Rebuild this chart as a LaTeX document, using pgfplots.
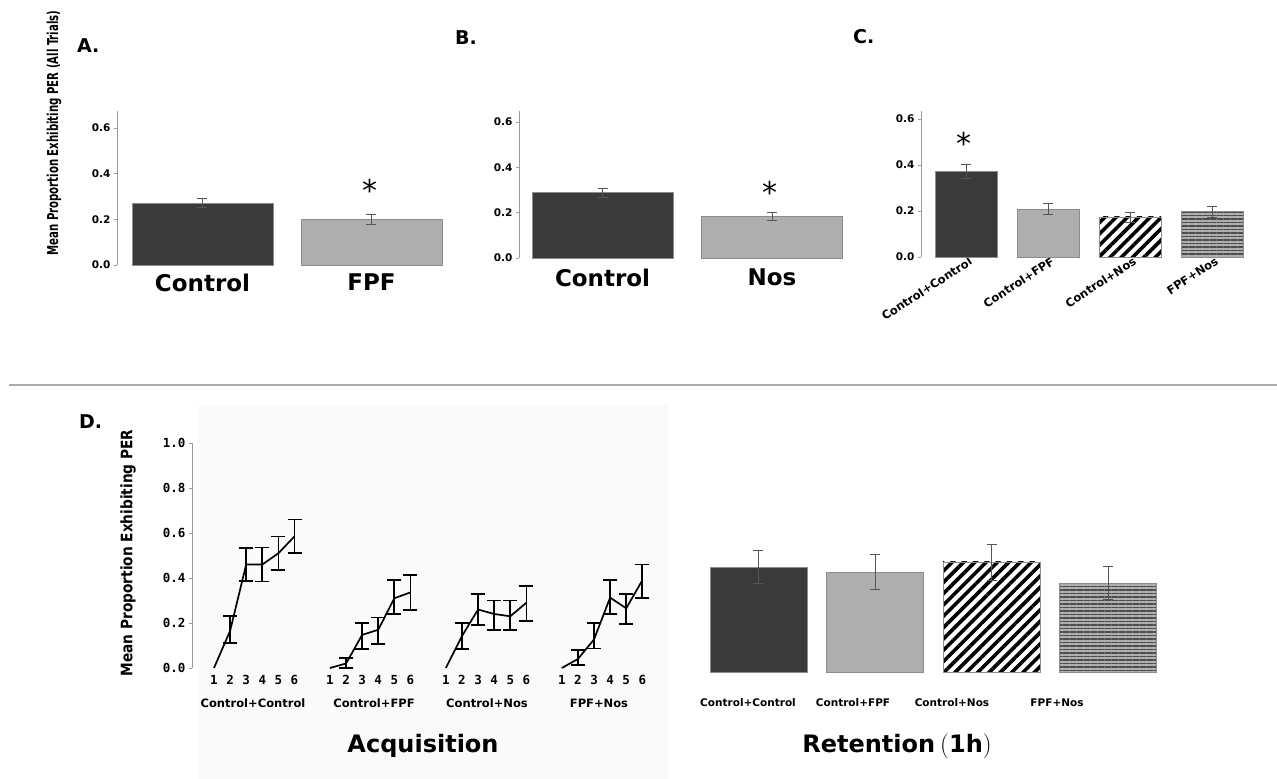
\documentclass[border=0pt]{standalone}
\usepackage{pgfplots}
\pgfplotsset{compat=1.18}
\usetikzlibrary{patterns.meta}
\usepackage{fontspec}
\setmainfont{DejaVu Sans}
\newfontfamily\monob{DejaVu Sans Mono}

\definecolor{barDark}{HTML}{3A3A3A}
\definecolor{barLight}{HTML}{AEAEAE}
\definecolor{barEdge}{HTML}{8C8C8C}
\definecolor{errGray}{HTML}{555555}
\definecolor{axGray}{HTML}{9A9A9A}

\pgfplotsset{
  /pgf/number format/assume math mode=true,
  small panel/.style={
    scale only axis, anchor=south west, clip=false,
    axis y line*=left, axis x line*=bottom,
    x axis line style={draw=none}, xtick style={draw=none},
    y axis line style={draw=axGray, line width=0.8pt},
    ytick style={draw=axGray, line width=0.6pt},
    tick align=outside, major tick length=3pt,
    ymin=0, ytick={0,0.2,0.4,0.6},
    yticklabel style={font=\bfseries\fontsize{10.5}{11}\selectfont,
      /pgf/number format/.cd, fixed, fixed zerofill, precision=1},
  },
  onebar/.style={ybar, bar shift=0pt, draw=barEdge, line width=0.8pt,
    error bars/y dir=both, error bars/y explicit,
    error bars/error bar style={draw=errGray, line width=0.8pt},
    error bars/error mark options={rotate=90, mark size=5pt, draw=errGray, line width=0.8pt}},
  darkbar/.style={fill=barDark},
  lightbar/.style={fill=barLight},
  stripebar/.style={fill=white, postaction={pattern={Lines[angle=45,distance=8pt,line width=3.6pt]}, pattern color=black}},
  hlinebar/.style={fill=barLight, postaction={pattern={Lines[angle=0,distance=3.5pt,line width=1.5pt]}, pattern color=black!70}},
  trial/.style={black, line width=1.7pt, mark=none},
  trialerr/.style={draw=none, mark=none, forget plot,
    error bars/y dir=both, error bars/y explicit,
    error bars/error bar style={black, line width=1.7pt},
    error bars/error mark options={rotate=90, mark size=7pt, black, line width=1.7pt}},
}

\begin{document}
\begin{tikzpicture}[x=1pt,y=1pt]
\path[use as bounding box] (0,0) rectangle (1277,779);

% faint backdrop behind the acquisition curves
\fill[gray!4] (198,0) rectangle (668,374);
% divider between the two rows
\draw[gray!65, line width=1.6pt] (9,394) -- (1277,394);

% ---- A ----
\begin{axis}[small panel, at={(117pt,514pt)}, width=333pt, height=154pt,
  xmin=-0.506, xmax=1.465, ymax=0.675,
  xtick={0,1}, xticklabels={Control,FPF},
  xticklabel style={font=\bfseries\fontsize{23}{23}\selectfont, yshift=-2pt}]
  \addplot[onebar, darkbar, bar width=141pt] coordinates {(0,0.272) +- (0,0.018)};
  \addplot[onebar, lightbar, bar width=141pt] coordinates {(1,0.200) +- (0,0.020)};
\end{axis}

% ---- B ----
\begin{axis}[small panel, at={(519pt,521pt)}, width=331pt, height=147pt,
  xmin=-0.493, xmax=1.46, ymax=0.648,
  xtick={0,1}, xticklabels={Control,Nos},
  xticklabel style={font=\bfseries\fontsize{23}{23}\selectfont, yshift=-4pt}]
  \addplot[onebar, darkbar, bar width=141pt] coordinates {(0,0.287) +- (0,0.018)};
  \addplot[onebar, lightbar, bar width=141pt] coordinates {(1,0.183) +- (0,0.018)};
\end{axis}

% ---- C ----
\begin{axis}[small panel, at={(921pt,522pt)}, width=329pt, height=146pt,
  xmin=-0.549, xmax=3.46, ymax=0.635,
  xtick={0,1,2,3}, xticklabels={Control+Control,Control+FPF,Control+Nos,FPF+Nos},
  xticklabel style={font=\bfseries\fontsize{11.5}{12}\selectfont, rotate=33, anchor=north east, inner sep=1pt, xshift=5pt, yshift=3pt}]
  \addplot[onebar, darkbar, bar width=62pt] coordinates {(0,0.372) +- (0,0.030)};
  \addplot[onebar, lightbar, bar width=62pt] coordinates {(1,0.209) +- (0,0.025)};
  \addplot[onebar, stripebar, bar width=62pt] coordinates {(2,0.174) +- (0,0.022)};
  \addplot[onebar, hlinebar, bar width=62pt] coordinates {(3,0.198) +- (0,0.024)};
\end{axis}

% ---- D, acquisition ----
\begin{axis}[scale only axis, anchor=south west, at={(192pt,111pt)}, clip=false,
  width=488pt, height=225pt, xmin=-0.366, xmax=29.94, ymin=0, ymax=1,
  axis y line*=left, axis x line*=bottom,
  x axis line style={draw=none}, xtick style={draw=none},
  y axis line style={draw=axGray, line width=0.8pt},
  ytick style={draw=axGray, line width=0.6pt},
  tick align=outside, major tick length=3pt,
  ytick={0,0.2,0.4,0.6,0.8,1},
  yticklabel style={font=\monob\bfseries\fontsize{12.5}{13}\selectfont,
    /pgf/number format/.cd, fixed, fixed zerofill, precision=1},
  xtick={1,2,3,4,5,6, 8.2,9.2,10.2,11.2,12.2,13.2, 15.4,16.4,17.4,18.4,19.4,20.4, 22.6,23.6,24.6,25.6,26.6,27.6},
  xticklabels={1,2,3,4,5,6,1,2,3,4,5,6,1,2,3,4,5,6,1,2,3,4,5,6},
  xticklabel style={font=\monob\bfseries\fontsize{12.5}{13}\selectfont, inner sep=1pt, yshift=-3pt}]
  % Control+Control
  \addplot[trial] coordinates {(1,0) (2,0.165) (3,0.46) (4,0.46) (5,0.51) (6,0.585)};
  \addplot[trialerr] coordinates {(2,0.165) += (0,0.065) -= (0,0.055) (3,0.46) +- (0,0.072)
    (4,0.46) +- (0,0.075) (5,0.51) +- (0,0.075) (6,0.585) +- (0,0.075)};
  % Control+FPF
  \addplot[trial] coordinates {(8.2,0) (9.2,0.02) (10.2,0.147) (11.2,0.17) (12.2,0.31) (13.2,0.336)};
  \addplot[trialerr] coordinates {(9.2,0.02) += (0,0.025) -= (0,0.02) (10.2,0.147) += (0,0.053) -= (0,0.062)
    (11.2,0.17) += (0,0.055) -= (0,0.063) (12.2,0.31) += (0,0.08) -= (0,0.07) (13.2,0.336) += (0,0.077) -= (0,0.078)};
  % Control+Nos
  \addplot[trial] coordinates {(15.4,0) (16.4,0.142) (17.4,0.26) (18.4,0.24) (19.4,0.23) (20.4,0.29)};
  \addplot[trialerr] coordinates {(16.4,0.142) +- (0,0.058) (17.4,0.26) +- (0,0.07)
    (18.4,0.24) += (0,0.06) -= (0,0.07) (19.4,0.23) += (0,0.07) -= (0,0.06) (20.4,0.29) += (0,0.074) -= (0,0.08)};
  % FPF+Nos
  \addplot[trial] coordinates {(22.6,0) (23.6,0.04) (24.6,0.127) (25.6,0.313) (26.6,0.265) (27.6,0.39)};
  \addplot[trialerr] coordinates {(23.6,0.04) += (0,0.04) -= (0,0.027) (24.6,0.127) += (0,0.073) -= (0,0.04)
    (25.6,0.313) += (0,0.077) -= (0,0.073) (26.6,0.265) += (0,0.065) -= (0,0.071) (27.6,0.39) += (0,0.07) -= (0,0.08)};
\end{axis}

% ---- D, retention ----
\begin{axis}[scale only axis, anchor=south west, at={(700pt,107pt)}, clip=false, hide axis,
  width=470pt, height=135pt, xmin=-0.502, xmax=3.532, ymin=0, ymax=0.6]
  \addplot[onebar, darkbar, bar width=97pt] coordinates {(0,0.467) +- (0,0.075)};
  \addplot[onebar, lightbar, bar width=97pt] coordinates {(1,0.444) +- (0,0.078)};
  \addplot[onebar, stripebar, bar width=97pt] coordinates {(2,0.489) +- (0,0.080)};
  \addplot[onebar, hlinebar, bar width=97pt] coordinates {(3,0.395) +- (0,0.073)};
\end{axis}

% significance stars
\begin{scope}[every node/.style={anchor=north, inner sep=0, font=\fontsize{30}{30}\selectfont}]
  \node at (370,600) {*};
  \node at (770,598) {*};
  \node at (964,647) {*};
\end{scope}

% panel letters
\begin{scope}[every node/.style={anchor=west, inner sep=0, font=\bfseries\fontsize{19}{19}\selectfont}]
  \node at (77,733) {A.};
  \node at (455,741) {B.};
  \node at (853,742) {C.};
  \node at (79,357) {D.};
\end{scope}

% y labels
\node[rotate=90, inner sep=0] at (54,646) {\resizebox{245pt}{11.4pt}{\bfseries Mean Proportion Exhibiting PER (All Trials)}};
\node[rotate=90, inner sep=0] at (128,226) {\resizebox{247pt}{12pt}{\bfseries Mean Proportion Exhibiting PER}};

% group names under panel D
\begin{scope}[every node/.style={inner sep=0, font=\bfseries\fontsize{11.5}{12}\selectfont}]
  \node at (253,76) {Control+Control};
  \node at (374,76) {Control+FPF};
  \node at (487,76) {Control+Nos};
  \node at (599,76) {FPF+Nos};
\end{scope}
\begin{scope}[every node/.style={inner sep=0, font=\bfseries\fontsize{10.5}{11}\selectfont}]
  \node at (748,76) {Control+Control};
  \node at (853,76) {Control+FPF};
  \node at (952,76) {Control+Nos};
  \node at (1057,76) {FPF+Nos};
\end{scope}

% section titles
\node[anchor=base, inner sep=0, font=\bfseries\fontsize{24}{24}\selectfont] at (423,26) {Acquisition};
\node[anchor=base, inner sep=0, font=\bfseries\fontsize{24}{24}\selectfont] at (897,26) {Retention\hspace{5pt}$\big($1h$\big)$};
\end{tikzpicture}
\end{document}
